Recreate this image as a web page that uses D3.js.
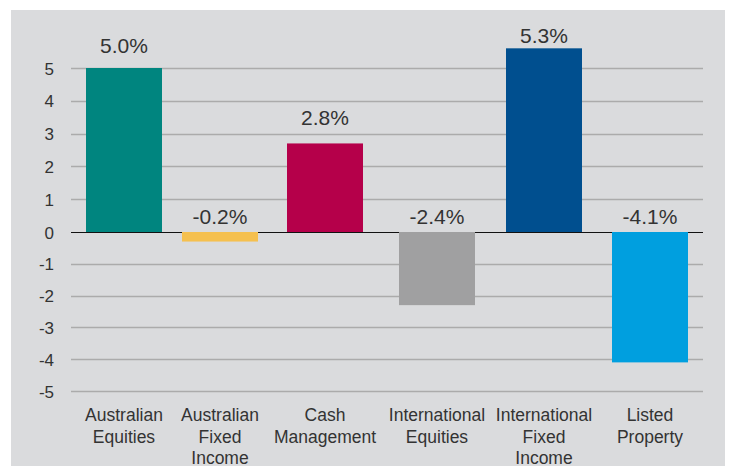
<!DOCTYPE html>
<html>
<head>
<meta charset="utf-8">
<script src="https://cdn.jsdelivr.net/npm/d3@7"></script>
<style>
  html, body { margin: 0; padding: 0; background: #ffffff; }
  svg { display: block; }
  text { font-family: "Liberation Sans", Arial, Helvetica, sans-serif; }
</style>
</head>
<body>
<svg id="chart" width="732" height="466"></svg>
<script>
const categories = [
  ["Australian", "Equities"],
  ["Australian", "Fixed", "Income"],
  ["Cash", "Management"],
  ["International", "Equities"],
  ["International", "Fixed", "Income"],
  ["Listed", "Property"]
];
const barValues = [5.0, -0.3, 2.7, -2.3, 5.6, -4.1];
const labelValues = [5.0, -0.2, 2.8, -2.4, 5.3, -4.1];
const labelTexts = ["5.0%", "-0.2%", "2.8%", "-2.4%", "5.3%", "-4.1%"];
const colors = ["#00857f", "#f5c04f", "#b5004a", "#a0a0a1", "#004f8f", "#009fdf"];
const yTicks = [5, 4, 3, 2, 1, 0, -1, -2, -3, -4, -5];
const yTickLabels = ["5", "4", "3", "2", "1", "0", "-1", "-2", "-3", "-4", "-5"];

const svg = d3.select("#chart");

svg.append("rect")
  .attr("x", 11).attr("y", 10)
  .attr("width", 714).attr("height", 456)
  .attr("fill", "#dadbdd");

// category centre scale (the source layout spaces the columns slightly unevenly)
const x = d3.scaleLinear()
  .domain(d3.range(categories.length))
  .range([124, 220, 325, 437, 544, 650]);
const barWidth = 76;

const y = d3.scaleLinear().domain([-5, 0, 5]).range([391, 232, 68]);

// gridlines
svg.append("g").selectAll("line")
  .data(yTicks.filter(d => d !== 0))
  .join("line")
  .attr("x1", 71).attr("x2", 703)
  .attr("y1", d => Math.round(y(d)) + 0.5)
  .attr("y2", d => Math.round(y(d)) + 0.5)
  .attr("stroke", "#ababab")
  .attr("stroke-width", 1.4);

// zero line
svg.append("line")
  .attr("x1", 71).attr("x2", 703)
  .attr("y1", Math.round(y(0)) + 0.5)
  .attr("y2", Math.round(y(0)) + 0.5)
  .attr("stroke", "#111")
  .attr("stroke-width", 1.2);

// y axis labels via d3 axis
const yAxis = d3.axisLeft(y).tickValues(yTicks).tickSize(0).tickPadding(0)
  .tickFormat((d, i) => yTickLabels[i]);
const gy = svg.append("g").attr("transform", "translate(54,0)").call(yAxis);
gy.select(".domain").remove();
gy.selectAll("text")
  .attr("font-size", 17)
  .attr("fill", "#333")
  .attr("font-family", "Liberation Sans, Arial, sans-serif")
  .attr("dy", "0.36em");

// bars
svg.append("g").selectAll("rect")
  .data(barValues)
  .join("rect")
  .attr("x", (d, i) => x(i) - barWidth / 2)
  .attr("width", barWidth)
  .attr("y", d => y(Math.max(0, d)))
  .attr("height", d => Math.abs(y(d) - y(0)))
  .attr("fill", (d, i) => colors[i]);

// value labels
svg.append("g").selectAll("text")
  .data(labelValues)
  .join("text")
  .attr("x", (d, i) => x(i))
  .attr("y", d => d >= 0 ? y(d) - 15 : y(0) - 8)
  .attr("text-anchor", "middle")
  .attr("font-size", 21)
  .attr("fill", "#333")
  .text((d, i) => labelTexts[i]);

// category labels
const cat = svg.append("g").selectAll("text")
  .data(categories)
  .join("text")
  .attr("x", (d, i) => x(i))
  .attr("y", 421)
  .attr("text-anchor", "middle")
  .attr("font-size", 17.5)
  .attr("fill", "#333");
cat.selectAll("tspan")
  .data(d => d)
  .join("tspan")
  .attr("x", function() { return d3.select(this.parentNode).attr("x"); })
  .attr("dy", (d, j) => j === 0 ? 0 : 21.5)
  .text(d => d);
</script>
</body>
</html>
